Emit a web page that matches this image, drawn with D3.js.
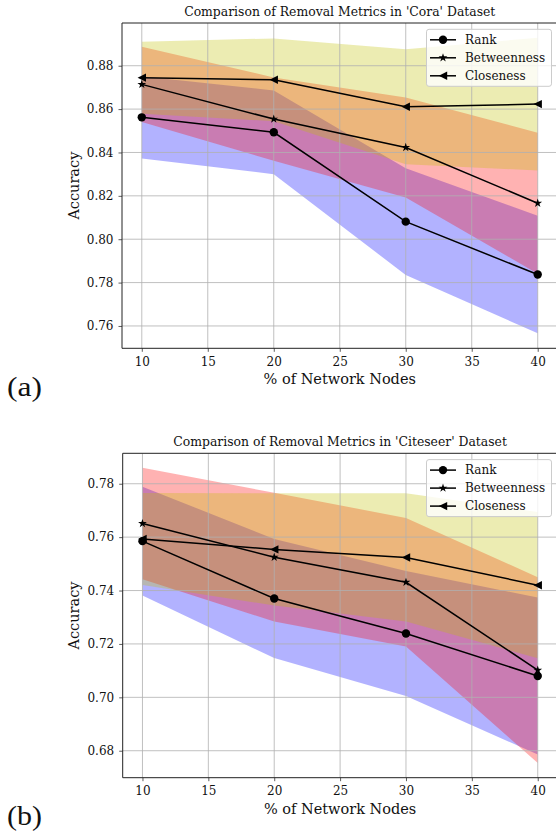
<!DOCTYPE html>
<html><head><meta charset="utf-8">
<script src="https://cdn.jsdelivr.net/npm/d3@7"></script>
<style>body{margin:0;background:#fff} svg text{font-family:"DejaVu Serif",serif;fill:#111}</style>
</head><body><svg id="c" width="556" height="831"></svg>
<script>
// ---- data ----
const xValues = [10, 20, 30, 40];
const xTicks = [10, 15, 20, 25, 30, 35, 40];
const seriesNames = ["Rank", "Betweenness", "Closeness"];

const coraRank = [0.8562, 0.8493, 0.8081, 0.7837];
const coraRankStd = [0.0190, 0.0193, 0.0246, 0.0271];
const coraBetweenness = [0.8714, 0.8554, 0.8423, 0.8166];
const coraBetweennessStd = [0.0173, 0.0192, 0.0231, 0.0325];
const coraCloseness = [0.8745, 0.8735, 0.8611, 0.8623];
const coraClosenessStd = [0.0166, 0.0191, 0.0265, 0.0306];
const coraYTicks = [0.76, 0.78, 0.80, 0.82, 0.84, 0.86, 0.88];

const citeRank = [0.7585, 0.7370, 0.7239, 0.7080];
const citeRankStd = [0.0204, 0.0223, 0.0234, 0.0294];
const citeBetweenness = [0.7651, 0.7525, 0.7431, 0.7102];
const citeBetweennessStd = [0.0209, 0.0241, 0.0241, 0.0348];
const citeCloseness = [0.7593, 0.7554, 0.7524, 0.7420];
const citeClosenessStd = [0.0172, 0.0210, 0.0240, 0.0274];
const citeYTicks = [0.68, 0.70, 0.72, 0.74, 0.76, 0.78];

// ---- styling / layout ----
const fillColors = ["#0000ff", "#ff0000", "#bfbf00"];
const markerTypes = ["circle", "star", "tri"];

const panels = [
  { title: "Comparison of Removal Metrics in 'Cora' Dataset", tag: "(a)",
    means: [coraRank, coraBetweenness, coraCloseness],
    stds: [coraRankStd, coraBetweennessStd, coraClosenessStd],
    yTicks: coraYTicks, yDomain: [0.7497, 0.8997],
    left: 122, right: 557.5, top: 23, bottom: 348.3, tagY: 396 },
  { title: "Comparison of Removal Metrics in 'Citeseer' Dataset", tag: "(b)",
    means: [citeRank, citeBetweenness, citeCloseness],
    stds: [citeRankStd, citeBetweennessStd, citeClosenessStd],
    yTicks: citeYTicks, yDomain: [0.6699, 0.7914],
    left: 122.7, right: 557.5, top: 453.3, bottom: 777.7, tagY: 825 }
];

const svg = d3.select("#c");

function drawMarker(g, type, x, y) {
  if (type === "circle") {
    g.append("circle").attr("cx", x).attr("cy", y).attr("r", 4.2).attr("fill", "#000");
  } else if (type === "star") {
    g.append("path").attr("d", d3.symbol(d3.symbolStar, 24)())
      .attr("transform", `translate(${x},${y})`).attr("fill", "#000");
  } else {
    const r = 4.2;
    g.append("path").attr("d", `M${-r},0L${r},${-r}L${r},${r}Z`)
      .attr("transform", `translate(${x},${y})`).attr("fill", "#000");
  }
}

panels.forEach((p, pi) => {
  const x = d3.scaleLinear().domain([8.5, 41.5]).range([p.left, p.right]);
  const y = d3.scaleLinear().domain(p.yDomain).range([p.bottom, p.top]);
  const g = svg.append("g");
  const clipId = "clip" + pi;
  g.append("clipPath").attr("id", clipId).append("rect")
    .attr("x", p.left).attr("y", p.top).attr("width", p.right - p.left).attr("height", p.bottom - p.top);

  // bands
  const fills = g.append("g").attr("clip-path", `url(#${clipId})`);
  p.means.forEach((m, si) => {
    const area = d3.area()
      .x((d, i) => x(xValues[i]))
      .y0((d, i) => y(m[i] - p.stds[si][i]))
      .y1((d, i) => y(m[i] + p.stds[si][i]));
    fills.append("path").datum(m).attr("d", area)
      .attr("fill", fillColors[si]).attr("fill-opacity", 0.3);
  });

  // grid
  const grid = g.append("g").attr("clip-path", `url(#${clipId})`);
  xTicks.forEach(t => grid.append("line").attr("x1", x(t)).attr("x2", x(t))
    .attr("y1", p.top).attr("y2", p.bottom).attr("stroke", "#b0b0b0").attr("stroke-width", 0.8));
  p.yTicks.forEach(t => grid.append("line").attr("x1", p.left).attr("x2", p.right)
    .attr("y1", y(t)).attr("y2", y(t)).attr("stroke", "#b0b0b0").attr("stroke-width", 0.8));

  // axes
  const xAxis = g.append("g").attr("transform", `translate(0,${p.bottom})`)
    .call(d3.axisBottom(x).tickValues(xTicks).tickSize(3.5).tickPadding(5.5).tickFormat(d3.format("d")));
  const yAxis = g.append("g").attr("transform", `translate(${p.left},0)`)
    .call(d3.axisLeft(y).tickValues(p.yTicks).tickSize(3.5).tickPadding(5).tickFormat(d3.format(".2f")));
  [xAxis, yAxis].forEach(a => {
    a.select(".domain").remove();
    a.selectAll(".tick line").attr("stroke", "#333").attr("stroke-width", 0.8);
    a.selectAll("text").attr("font-size", 12).attr("font-family", "DejaVu Serif").attr("fill", "#111");
  });
  // spines
  g.append("line").attr("x1", p.left).attr("x2", p.left).attr("y1", p.top).attr("y2", p.bottom)
    .attr("stroke", "#222").attr("stroke-width", 1);
  g.append("line").attr("x1", p.left).attr("x2", p.right).attr("y1", p.bottom).attr("y2", p.bottom)
    .attr("stroke", "#222").attr("stroke-width", 1);
  g.append("line").attr("x1", p.left).attr("x2", p.right).attr("y1", p.top).attr("y2", p.top)
    .attr("stroke", "#222").attr("stroke-width", 1);

  // lines + markers
  p.means.forEach((m, si) => {
    const line = d3.line().x((d, i) => x(xValues[i])).y(d => y(d));
    g.append("path").datum(m).attr("d", line).attr("fill", "none")
      .attr("stroke", "#000").attr("stroke-width", 1.5);
    m.forEach((v, i) => drawMarker(g, markerTypes[si], x(xValues[i]), y(v)));
  });

  // title & labels
  g.append("text").attr("x", (p.left + p.right) / 2).attr("y", p.top - 7)
    .attr("text-anchor", "middle").attr("font-size", 12.4).text(p.title);
  g.append("text").attr("x", (p.left + p.right) / 2).attr("y", p.bottom + 36)
    .attr("text-anchor", "middle").attr("font-size", 14.5).text("% of Network Nodes");
  const cy = (p.top + p.bottom) / 2;
  g.append("text").attr("transform", `translate(79,${cy}) rotate(-90)`)
    .attr("text-anchor", "middle").attr("font-size", 14.5).text("Accuracy");
  g.append("text").attr("x", 7).attr("y", p.tagY).attr("font-size", 27)
    .attr("textLength", 35).attr("lengthAdjust", "spacingAndGlyphs")
    .style("font-family", "'Liberation Serif', serif").attr("fill", "#000").text(p.tag);

  // legend
  const lg = g.append("g");
  lg.append("rect").attr("x", 426.5).attr("y", p.top + 6.3).attr("width", 125).attr("height", 57)
    .attr("rx", 2.5).attr("fill", "#fff").attr("fill-opacity", 0.8)
    .attr("stroke", "#cccccc").attr("stroke-width", 1);
  seriesNames.forEach((name, si) => {
    const ry = p.top + 16.8 + si * 18;
    lg.append("line").attr("x1", 430).attr("x2", 456).attr("y1", ry).attr("y2", ry)
      .attr("stroke", "#000").attr("stroke-width", 1.5);
    drawMarker(lg, markerTypes[si], 443, ry);
    lg.append("text").attr("x", 465).attr("y", ry).attr("dy", "0.35em")
      .attr("font-size", 12).text(name);
  });
});
</script></body></html>
